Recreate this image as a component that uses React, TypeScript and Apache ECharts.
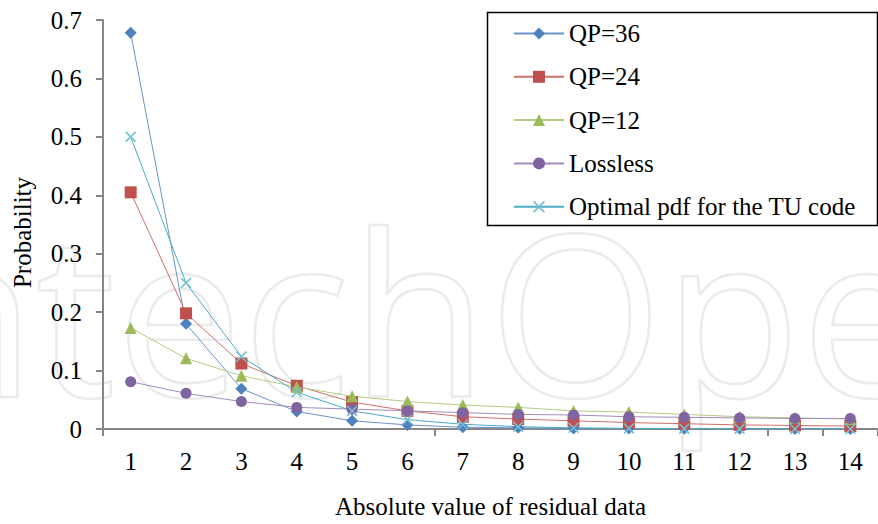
import React, { useEffect, useRef } from 'react';
import * as echarts from 'echarts';

const categories = ['1', '2', '3', '4', '5', '6', '7', '8', '9', '10', '11', '12', '13', '14'];
const qp36 = [0.678, 0.18, 0.069, 0.03, 0.014, 0.007, 0.003, 0.002, 0.001, 0.001, 0.0005, 0.0003, 0.0002, 0.0001];
const qp24 = [0.405, 0.198, 0.112, 0.074, 0.046, 0.031, 0.021, 0.017, 0.014, 0.011, 0.009, 0.007, 0.006, 0.005];
const qp12 = [0.173, 0.121, 0.091, 0.072, 0.056, 0.047, 0.041, 0.037, 0.031, 0.029, 0.025, 0.021, 0.019, 0.017];
const lossless = [0.081, 0.061, 0.047, 0.037, 0.034, 0.031, 0.028, 0.025, 0.024, 0.021, 0.02, 0.019, 0.018, 0.018];
const optimal = [0.5, 0.25, 0.124, 0.063, 0.031, 0.016, 0.008, 0.004, 0.002, 0.001, 0.0005, 0.0003, 0.0001, 0.0001];
const seriesNames = ['QP=36', 'QP=24', 'QP=12', 'Lossless', 'Optimal pdf for the TU code'];
const xTitle = 'Absolute value of residual data';
const yTitle = 'Probability';
const watermark = 'IntechOpen';

const X_SYMBOL = 'path://M1,0 L5,4 L9,0 L10,1 L6,5 L10,9 L9,10 L5,6 L1,10 L0,9 L4,5 L0,1 Z';

export default function App() {
  const ref = useRef<HTMLDivElement>(null);
  useEffect(() => {
    const chart = echarts.init(ref.current as HTMLDivElement, null, { renderer: 'svg' });
    const serif = 'Liberation Serif';
    const fs = 25;
    const mk = (name: string, data: number[], color: string, lineColor: string, symbol: string, symbolSize: number) => ({
      name,
      type: 'line',
      data,
      symbol,
      symbolSize,
      showSymbol: true,
      itemStyle: { color },
      lineStyle: { color: lineColor, width: 1 },
      emphasis: { disabled: true },
    });
    chart.setOption({
      animation: false,
      backgroundColor: '#ffffff',
      textStyle: { fontFamily: serif },
      grid: { left: 103, top: 20, width: 784, height: 414, containLabel: false },
      legend: {
        orient: 'vertical',
        left: 487,
        top: 12,
        padding: [9, 10, 8, 26],
        itemWidth: 50,
        itemHeight: 15,
        itemGap: 18.3,
        selectedMode: false,
        textStyle: { fontFamily: serif, fontSize: fs, color: '#000' },
        data: seriesNames,
      },
      xAxis: {
        type: 'category',
        data: categories,
        boundaryGap: true,
        name: xTitle,
        nameLocation: 'middle',
        nameGap: 65,
        nameTextStyle: { fontFamily: serif, fontSize: fs, color: '#000' },
        axisLine: { lineStyle: { color: '#868686', width: 2 } },
        axisTick: { show: true, interval: 5, length: 7, lineStyle: { color: '#868686', width: 2 } },
        axisLabel: { interval: 0, margin: 20, fontFamily: serif, fontSize: fs, color: '#000' },
        splitLine: { show: false },
      },
      yAxis: {
        type: 'value',
        min: 0,
        max: 0.7,
        interval: 0.1,
        name: yTitle,
        nameLocation: 'middle',
        nameRotate: 90,
        nameGap: 68,
        nameTextStyle: { fontFamily: serif, fontSize: fs, color: '#000', padding: [0, 16, 0, 0] },
        axisLine: { show: true, lineStyle: { color: '#868686', width: 2 } },
        axisTick: { show: true, length: 7, lineStyle: { color: '#868686', width: 2 } },
        axisLabel: {
          margin: 21,
          fontFamily: serif,
          fontSize: fs,
          color: '#000',
          formatter: (v: number) => (v === 0 ? '0' : v.toFixed(1)),
        },
        splitLine: { show: false },
      },
      graphic: [
        {
          type: 'text',
          x: -165,
          y: 310,
          z: -100,
          silent: true,
          style: {
            text: watermark,
            fontFamily: 'Open Sans',
            fontSize: 225,
            fill: 'rgba(0,0,0,0)',
            stroke: '#ebebeb',
            lineWidth: 2.5,
            verticalAlign: 'middle',
            align: 'left',
          },
        },
        {
          type: 'rect',
          z: 100,
          silent: true,
          shape: { x: 487.5, y: 12.5, width: 390, height: 213 },
          style: { fill: 'rgba(0,0,0,0)', stroke: '#000', lineWidth: 1.5 },
        },
      ],
      series: [
        mk(seriesNames[0], qp36, '#4F81BD', '#6a93c9', 'diamond', 12),
        mk(seriesNames[1], qp24, '#C0504D', '#d0706d', 'rect', 12),
        mk(seriesNames[2], qp12, '#9BBB59', '#b3cc84', 'triangle', 12),
        mk(seriesNames[3], lossless, '#8064A2', '#a08cbc', 'circle', 11),
        mk(seriesNames[4], optimal, '#72bfd3', '#4BACC6', X_SYMBOL, 11),
      ],
    });
    return () => chart.dispose();
  }, []);
  return <div ref={ref} style={{ position: 'fixed', left: 0, top: 0, width: 878, height: 524 }} />;
}
